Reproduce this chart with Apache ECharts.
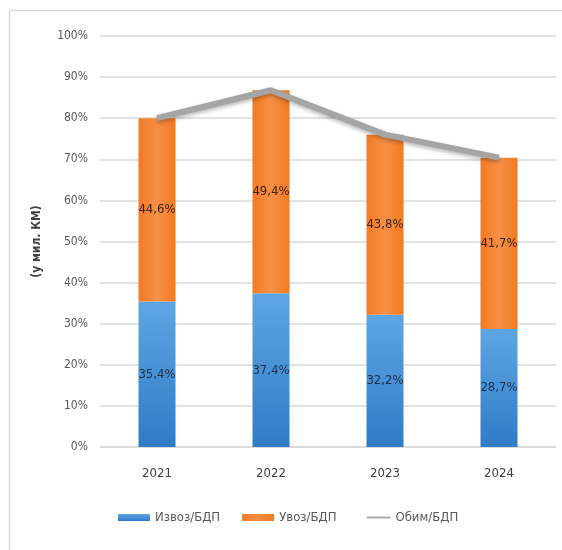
<!DOCTYPE html>
<html>
<head>
<meta charset="utf-8">
<script src="https://cdn.jsdelivr.net/npm/echarts@6/dist/echarts.min.js"></script>
<style>
  html, body { margin: 0; padding: 0; background: #fff; }
  #chart { width: 562px; height: 550px; }
</style>
</head>
<body>
<div id="chart"></div>
<script>
// Share of road freight transport in GDP, by year
const years = ['2021', '2022', '2023', '2024'];
const exportShare = [35.4, 37.4, 32.2, 28.7];   // Извоз/БДП
const importShare = [44.6, 49.4, 43.8, 41.7];   // Увоз/БДП
const yTicks = [0, 10, 20, 30, 40, 50, 60, 70, 80, 90, 100];

// Total volume = export + import
const volumeShare = exportShare.map((v, i) => +(v + importShare[i]).toFixed(1));

const FONT = "'Liberation Sans Narrow', 'DejaVu Sans Condensed', sans-serif";
const fmt = v => String(v.toFixed(1)).replace('.', ',') + '%';

// thin bar legend icon for the line series (zero-area corner points keep the box height)
const LINE_ICON = 'path://M0,0L0,0M9,2.5H34V4.5H9ZM34,7L34,7';

const chart = echarts.init(document.getElementById('chart'), null, { renderer: 'canvas' });

chart.setOption({
  backgroundColor: '#ffffff',
  animation: false,
  graphic: [{
    type: 'rect',
    shape: { x: 9.5, y: 10.5, width: 600, height: 600 },
    style: { fill: 'none', stroke: '#d9d9d9', lineWidth: 1.5 },
    silent: true
  }],
  grid: { left: 100, right: 6, top: 36, bottom: 103 },
  legend: {
    bottom: 21,
    left: 113,
    itemWidth: 32,
    itemHeight: 7,
    itemGap: 22,
    textStyle: { fontFamily: FONT, fontSize: 13, color: '#595959' },
    data: [
      { name: 'Извоз/БДП', icon: 'rect' },
      { name: 'Увоз/БДП', icon: 'rect' },
      { name: 'Обим/БДП', icon: LINE_ICON }
    ]
  },
  xAxis: {
    type: 'category',
    data: years,
    axisLine: { lineStyle: { color: '#d9d9d9', width: 1.5 } },
    axisTick: { show: false },
    axisLabel: { fontFamily: FONT, fontSize: 13, color: '#404040', margin: 20 }
  },
  yAxis: {
    type: 'value',
    min: yTicks[0],
    max: yTicks[yTicks.length - 1],
    interval: 10,
    name: '(у мил. КМ)',
    nameLocation: 'middle',
    nameRotate: 90,
    nameGap: 57,
    nameTextStyle: { fontFamily: FONT, fontSize: 12, fontWeight: 'bold', color: '#404040' },
    axisLine: { show: false },
    axisTick: { show: false },
    axisLabel: {
      fontFamily: FONT, fontSize: 12, color: '#595959', margin: 12,
      formatter: v => v + '%'
    },
    splitLine: { lineStyle: { color: '#d9d9d9', width: 1.5 } }
  },
  series: [
    {
      name: 'Извоз/БДП',
      type: 'bar',
      stack: 'share',
      barWidth: 37,
      data: exportShare,
      itemStyle: {
        color: new echarts.graphic.LinearGradient(0, 0, 0, 1, [
          { offset: 0, color: '#5ea6e3' },
          { offset: 1, color: '#2f7bc6' }
        ])
      },
      label: {
        show: true, position: 'inside',
        fontFamily: FONT, fontSize: 13, color: '#1f2f4a',
        formatter: p => fmt(p.value)
      }
    },
    {
      name: 'Увоз/БДП',
      type: 'bar',
      stack: 'share',
      barWidth: 37,
      data: importShare,
      itemStyle: {
        color: new echarts.graphic.LinearGradient(0, 0, 1, 0, [
          { offset: 0, color: '#f37a22' },
          { offset: 0.5, color: '#f79046' },
          { offset: 1, color: '#f37a22' }
        ])
      },
      label: {
        show: true, position: 'inside',
        fontFamily: FONT, fontSize: 13, color: '#3a2410',
        formatter: p => fmt(p.value)
      }
    },
    {
      name: 'Обим/БДП',
      type: 'line',
      data: volumeShare,
      symbol: 'none',
      z: 5,
      color: '#a5a5a5',
      lineStyle: {
        color: '#a5a5a5', width: 6,
        shadowColor: 'rgba(0,0,0,0.3)', shadowBlur: 4, shadowOffsetY: 2
      }
    }
  ]
});
</script>
</body>
</html>
